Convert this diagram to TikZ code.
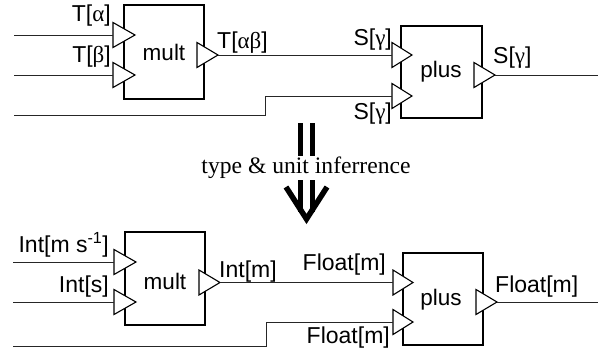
\documentclass[tikz,border=0pt]{standalone}
\usepackage{fontspec}
\setmainfont{Liberation Serif}
\setsansfont{Liberation Sans}
\newfontfamily\grk{Liberation Serif}
\begin{document}
\begin{tikzpicture}[x=1pt,y=-1pt,
  wire/.style={line width=0.9pt,draw=black!85},
  blk/.style={draw,line width=1.1pt,fill=white,inner sep=0pt},
  port/.style={draw,line width=1.1pt,fill=white,line join=miter},
  lbl/.style={font=\sffamily\fontsize{23}{25}\selectfont,inner sep=0pt},
  blab/.style={font=\sffamily\fontsize{22.5}{24}\selectfont},
  bigarrow/.style={line width=5.5pt,line join=miter}]
\useasboundingbox (0,0) rectangle (605,359);
% ---------- top diagram ----------
\node[blk,minimum width=80pt,minimum height=94pt] (m1) at (164,52) {};
\node[blab] (m1t) at (164,52) {mult};
\node[blk,minimum width=81pt,minimum height=92pt] (p1) at (441.5,72) {};
\node[blab] (p1t) at (441,72) {plus};
% ports
\coordinate (m1a) at (113,35);  \coordinate (m1b) at (113,75);
\coordinate (m1o) at (218,55);
\coordinate (p1a) at (392,55);  \coordinate (p1b) at (392,96);
\coordinate (p1o) at (495,75);
\draw[port] (113,22.5) -- (135,35) -- (113,47.5) -- cycle;
\draw[port] (113,62.5) -- (135,75) -- (113,87.5) -- cycle;
\draw[port] (197,42.5) -- (218,55) -- (197,67.5) -- cycle;
\draw[port] (392,42.5) -- (412,55) -- (392,67.5) -- cycle;
\draw[port] (392,83.5) -- (412,96) -- (392,108.5) -- cycle;
\draw[port] (474,62.5) -- (495,75) -- (474,87.5) -- cycle;
\coordinate (s1a) at (14,35); \coordinate (s1b) at (14,75);
\coordinate (s1c) at (14,115); \coordinate (e1) at (598,75);
\draw[wire] (s1a) -- (m1a);
\draw[wire] (s1b) -- (m1b);
\draw[wire] (m1o) -- (p1a);
\draw[wire] (s1c) -- (265,115) -- (265,96) -- (p1b);
\draw[wire] (p1o) -- (e1);
\node[lbl,anchor=east] (l1) at (111,16) {T[{\grk α}]};
\node[lbl,anchor=east] (l2) at (111,57) {T[{\grk β}]};
\node[lbl,anchor=west] (l3) at (217,43) {T[{\grk αβ}]};
\node[lbl,anchor=east] (l4) at (392,40) {S[{\grk γ}]};
\node[lbl,anchor=east] (l5) at (392,114) {S[{\grk γ}]};
\node[lbl,anchor=west] (l6) at (493,58) {S[{\grk γ}]};
% ---------- double arrow ----------
\coordinate (da1) at (300.5,123); \coordinate (da2) at (312.5,123);
\draw[bigarrow] (da1) -- (300.5,212);
\draw[bigarrow] (da2) -- (312.5,212);
\draw[bigarrow] (286,187) -- (306.5,219) -- (327,187);
\node[fill=white,inner sep=1pt,font=\fontsize{23.6}{25}\selectfont] (inf) at (306,168) {type \& unit inferrence};
% ---------- bottom diagram ----------
\node[blk,minimum width=80pt,minimum height=93pt] (m2) at (165,278.5) {};
\node[blab] (m2t) at (165,281) {mult};
\node[blk,minimum width=80pt,minimum height=92pt] (p2) at (443,299) {};
\node[blab] (p2t) at (441,300) {plus};
\coordinate (m2a) at (114,262);  \coordinate (m2b) at (114,302);
\coordinate (m2o) at (220,282.5);
\coordinate (p2a) at (393,282.5);  \coordinate (p2b) at (393,322);
\coordinate (p2o) at (497,302);
\draw[port] (114,249.5) -- (136,262) -- (114,274.5) -- cycle;
\draw[port] (114,289.5) -- (136,302) -- (114,314.5) -- cycle;
\draw[port] (199,270) -- (220,282.5) -- (199,295) -- cycle;
\draw[port] (393,270) -- (413,282.5) -- (393,295) -- cycle;
\draw[port] (393,309.5) -- (413,322) -- (393,334.5) -- cycle;
\draw[port] (476,289.5) -- (497,302) -- (476,314.5) -- cycle;
\coordinate (s2a) at (13,262); \coordinate (s2b) at (13,302);
\coordinate (s2c) at (13,346); \coordinate (e2) at (598,302);
\draw[wire] (s2a) -- (m2a);
\draw[wire] (s2b) -- (m2b);
\draw[wire] (m2o) -- (p2a);
\draw[wire] (s2c) -- (266,346) -- (266,322) -- (p2b);
\draw[wire] (p2o) -- (e2);
\node[lbl,anchor=east] (k1) at (109,245) {Int[m s\textsuperscript{-1}]};
\node[lbl,anchor=east] (k2) at (109,287) {Int[s]};
\node[lbl,anchor=west] (k3) at (219,272) {Int[m]};
\node[lbl,anchor=east] (k4) at (386,265) {Float[m]};
\node[lbl,anchor=east] (k5) at (390,338) {Float[m]};
\node[lbl,anchor=west] (k6) at (495,287) {Float[m]};
\end{tikzpicture}
\end{document}
